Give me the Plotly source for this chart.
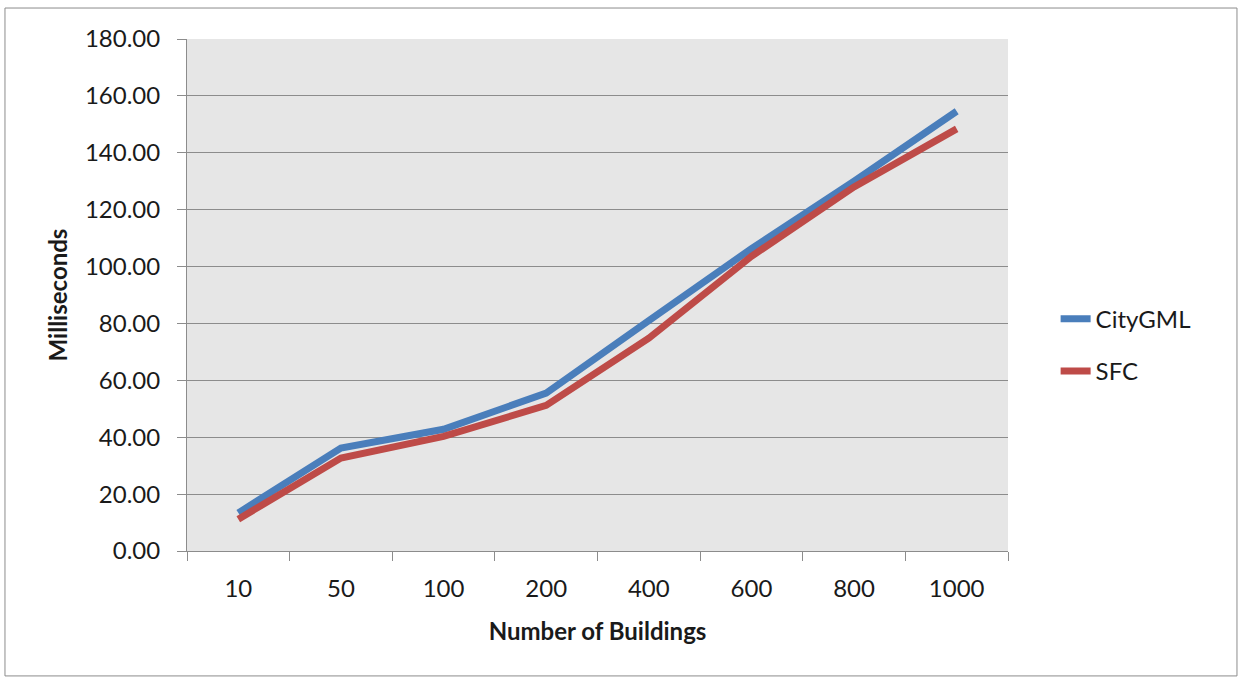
import plotly.graph_objects as go

# Building counts on the category axis
buildings = ["10", "50", "100", "200", "400", "600", "800", "1000"]

# Processing time in milliseconds
citygml_ms = [13.4, 36.2, 42.8, 55.5, 81.0, 106.3, 130.0, 154.6]
sfc_ms = [11.2, 32.7, 40.3, 51.2, 74.8, 103.6, 128.0, 148.4]

y_ticks = [0, 20, 40, 60, 80, 100, 120, 140, 160, 180]

FONT = "Lato, 'Open Sans', sans-serif"

fig = go.Figure()
fig.add_trace(go.Scatter(
    x=buildings, y=citygml_ms, name="CityGML", mode="lines",
    legendgroup="citygml",
    line=dict(color="#4a7ebb", width=7),
))
fig.add_trace(go.Scatter(
    x=buildings, y=sfc_ms, name="SFC", mode="lines",
    legendgroup="sfc",
    line=dict(color="#be4b48", width=7),
))

fig.update_layout(
    width=1241, height=677,
    margin=dict(l=187, r=233, t=39, b=126),
    paper_bgcolor="white",
    plot_bgcolor="#e6e6e6",
    font=dict(family=FONT, size=24, color="#1a1a1a"),
    showlegend=True,
    legend=dict(
        x=1.058, y=0.402, xanchor="left", yanchor="middle",
        font=dict(size=24, color="#1a1a1a"),
        traceorder="grouped", tracegroupgap=18,
        bgcolor="rgba(0,0,0,0)",
    ),
    xaxis=dict(
        type="category",
        tickson="boundaries",
        ticks="outside", ticklen=9, tickcolor="#8c8c8c", tickwidth=1,
        showline=True, linecolor="#8c8c8c", linewidth=1,
        showgrid=False,
        tickfont=dict(size=24),
        ticklabelstandoff=16,
        title=dict(text="<b>Number of Buildings</b>", font=dict(size=24), standoff=22),
        range=[-0.5, 7.5],
    ),
    yaxis=dict(
        range=[0, 180],
        tickvals=y_ticks,
        ticktext=[f"{v:.2f}" for v in y_ticks],
        ticks="outside", ticklen=9, tickcolor="#8c8c8c", tickwidth=1,
        showline=True, linecolor="#8c8c8c", linewidth=1,
        showgrid=True, gridcolor="#8c8c8c", gridwidth=1,
        zeroline=False,
        tickfont=dict(size=24),
        ticklabelstandoff=12,
        title=dict(text="<b>Milliseconds</b>", font=dict(size=24), standoff=10),
    ),
    shapes=[dict(
        type="rect", xref="paper", yref="paper",
        x0=-0.2217, x1=1.2789, y0=-0.244, y1=1.0605,
        line=dict(color="#8c8c8c", width=1),
        fillcolor="rgba(0,0,0,0)", layer="below",
    )],
)

fig.write_html("out.html")
